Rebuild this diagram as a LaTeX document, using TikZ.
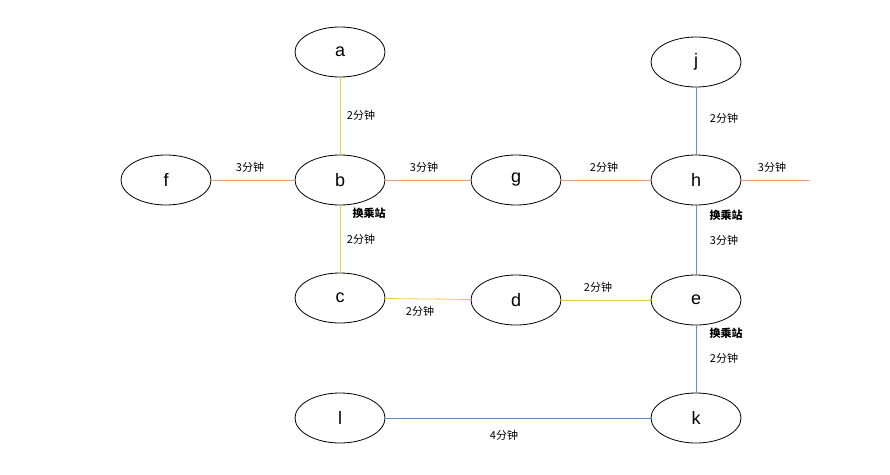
\documentclass[tikz,border=0pt]{standalone}
\usepackage{fontspec}
\setmainfont{Liberation Sans}
\newfontfamily\cjk{Noto Sans CJK SC}
\usetikzlibrary{shapes.geometric}
\definecolor{orn}{RGB}{237,160,110}
\definecolor{yel}{RGB}{240,200,70}
\definecolor{blu}{RGB}{100,140,210}
\tikzset{
 stn/.style={ellipse,draw,thick,minimum width=90pt,minimum height=50pt,font=\fontsize{18}{20}\selectfont,fill=white},
 lbl/.style={font=\cjk\fontsize{11}{13}\selectfont},
 xfer/.style={font=\cjk\bfseries\fontsize{11}{13}\selectfont},
 eo/.style={draw=orn,thick},
 ey/.style={draw=yel,thick},
 eb/.style={draw=blu,thick}
}
\begin{document}
\begin{tikzpicture}[x=1pt,y=-1pt]
\useasboundingbox (0,0) rectangle (890,474);
\coordinate (hr) at (810,180);
\node[stn] (a) at (340,52) {a};
\node[stn] (b) at (340,180) {b};
\node[stn] (c) at (340,298) {c};
\node[stn] (d) at (516,300) {d};
\node[stn] (e) at (696,300) {e};
\node[stn] (f) at (166,180) {f};
\node[stn] (g) at (516,180) {g};
\node[stn] (h) at (696,180) {h};
\node[stn] (j) at (696,62) {j};
\node[stn] (k) at (696,418) {k};
\node[stn] (l) at (340,418) {l};
\begin{scope}[on background layer/.style={}]
\draw[eo] (f) -- (b);
\draw[eo] (b) -- (g);
\draw[eo] (g) -- (h);
\draw[eo] (h) -- (hr);
\draw[ey] (a) -- (b);
\draw[ey] (b) -- (c);
\draw[ey] (c) -- (d);
\draw[ey] (d) -- (e);
\draw[eb] (j) -- (h);
\draw[eb] (h) -- (e);
\draw[eb] (e) -- (k);
\draw[eb] (k) -- (l);
\end{scope}
\node[lbl] (t1) at (250,167) {3分钟};
\node[lbl] (t2) at (424,167) {3分钟};
\node[lbl] (t3) at (604,167) {2分钟};
\node[lbl] (t4) at (772,167) {3分钟};
\node[lbl] (t5) at (361,115) {2分钟};
\node[lbl] (t6) at (361,239) {2分钟};
\node[lbl] (t7) at (420,311) {2分钟};
\node[lbl] (t8) at (598,287) {2分钟};
\node[lbl] (t9) at (724,118) {2分钟};
\node[lbl] (t10) at (724,240) {3分钟};
\node[lbl] (t11) at (724,358) {2分钟};
\node[lbl] (t12) at (504,435) {4分钟};
\node[xfer] (x1) at (369,213) {换乘站};
\node[xfer] (x2) at (726,215) {换乘站};
\node[xfer] (x3) at (726,333) {换乘站};
\end{tikzpicture}
\end{document}
